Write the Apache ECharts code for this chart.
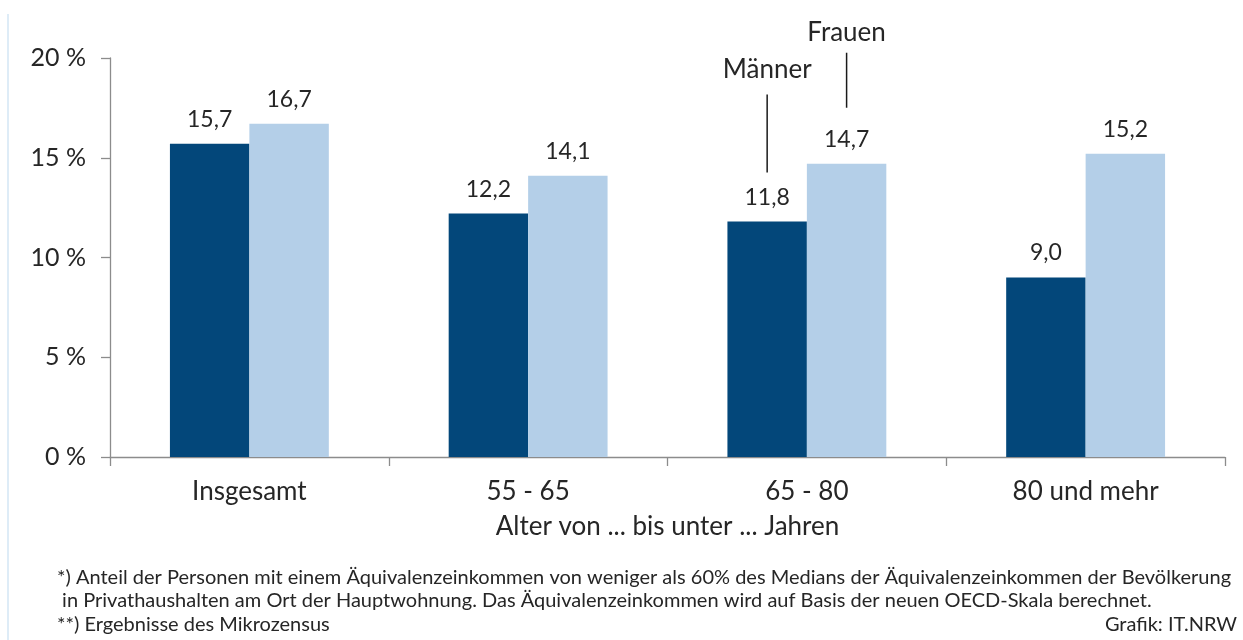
<!DOCTYPE html>
<html>
<head>
<meta charset="utf-8">
<script src="https://cdn.jsdelivr.net/npm/echarts@6/dist/echarts.min.js"></script>
<style>
html,body{margin:0;padding:0;background:#fff;}
#c{width:1243px;height:640px;}
</style>
</head>
<body>
<div id="c"></div>
<script>
const categories = ['Insgesamt', '55 - 65', '65 - 80', '80 und mehr'];
const maenner = [15.7, 12.2, 11.8, 9.0];
const frauen = [16.7, 14.1, 14.7, 15.2];
const yTicks = [0, 5, 10, 15, 20];
const seriesNames = ['Männer', 'Frauen'];
const axisTitle = 'Alter von ... bis unter ... Jahren';
const footnotes = [
  '*) Anteil der Personen mit einem Äquivalenzeinkommen von weniger als 60% des Medians der Äquivalenzeinkommen der Bevölkerung',
  ' in Privathaushalten am Ort der Hauptwohnung. Das Äquivalenzeinkommen wird auf Basis der neuen OECD-Skala berechnet.',
  '**) Ergebnisse des Mikrozensus'
];
const source = 'Grafik: IT.NRW';
const annotateIndex = 2;

const FONT = 'Lato, "Open Sans", sans-serif';
const TXT = '#262626';
const fmt = v => v.toFixed(1).replace('.', ',');

const chart = echarts.init(document.getElementById('c'), null, {renderer: 'canvas'});
const gap = 0.43;

const option = {
  backgroundColor: '#fff',
  animation: false,
  textStyle: {fontFamily: FONT, color: TXT},
  grid: {left: 110, right: 18, top: 58, bottom: 183, containLabel: false},
  xAxis: {
    type: 'category',
    data: categories,
    name: axisTitle,
    nameLocation: 'middle',
    nameGap: 57,
    nameTextStyle: {fontSize: 26, color: TXT, fontFamily: FONT},
    axisLine: {lineStyle: {color: '#8c8c8c', width: 1.3}},
    axisTick: {show: true, length: 9, lineStyle: {color: '#8c8c8c', width: 1.3}},
    axisLabel: {fontSize: 26, color: TXT, margin: 22, fontFamily: FONT}
  },
  yAxis: {
    type: 'value',
    min: yTicks[0],
    max: yTicks[yTicks.length - 1],
    interval: yTicks[1] - yTicks[0],
    axisLine: {show: true, lineStyle: {color: '#8c8c8c', width: 1.3}},
    axisTick: {show: true, length: 9, lineStyle: {color: '#8c8c8c', width: 1.3}},
    splitLine: {show: false},
    axisLabel: {fontSize: 25, color: TXT, margin: 24, fontFamily: FONT, formatter: v => v + ' %'}
  },
  series: [
    {
      name: seriesNames[0], type: 'bar', data: maenner,
      barGap: '0%', barCategoryGap: (gap * 100) + '%',
      itemStyle: {color: '#03477a'},
      label: {show: true, position: 'top', distance: 13, fontSize: 23, color: TXT, fontFamily: FONT, formatter: p => fmt(p.value)}
    },
    {
      name: seriesNames[1], type: 'bar', data: frauen,
      barGap: '0%', barCategoryGap: (gap * 100) + '%',
      itemStyle: {color: '#b4cfe8'},
      label: {show: true, position: 'top', distance: 13, fontSize: 23, color: TXT, fontFamily: FONT, formatter: p => fmt(p.value)}
    }
  ]
};
chart.setOption(option);

// annotations and footnotes
const x0 = chart.convertToPixel({xAxisIndex: 0}, 0);
const x1 = chart.convertToPixel({xAxisIndex: 0}, 1);
const band = x1 - x0;
const off = band * (1 - gap) / 4;
const cx = chart.convertToPixel({xAxisIndex: 0}, annotateIndex);
const mx = cx - off, fx = cx + off;
const yM = chart.convertToPixel({yAxisIndex: 0}, maenner[annotateIndex]);
const yF = chart.convertToPixel({yAxisIndex: 0}, frauen[annotateIndex]);

const fs = 20;
const g = [
  {type: 'line', shape: {x1: 8, y1: 14, x2: 8, y2: 640}, style: {stroke: '#d3e6f5', lineWidth: 1.5}},
  // Männer
  {type: 'line', shape: {x1: mx, y1: yM - 127, x2: mx, y2: yM - 49}, style: {stroke: '#1a1a1a', lineWidth: 1.5}},
  {type: 'text', x: mx, y: yM - 152, style: {text: seriesNames[0], fontSize: 26, fontFamily: FONT, fill: TXT, textAlign: 'center', textVerticalAlign: 'middle'}},
  // Frauen
  {type: 'line', shape: {x1: fx, y1: yF - 111, x2: fx, y2: yF - 56}, style: {stroke: '#1a1a1a', lineWidth: 1.5}},
  {type: 'text', x: fx, y: yF - 131, style: {text: seriesNames[1], fontSize: 26, fontFamily: FONT, fill: TXT, textAlign: 'center', textVerticalAlign: 'middle'}},
  // footnotes
  {type: 'text', x: 57, y: 578, style: {text: footnotes[0], fontSize: fs, fontFamily: FONT, fill: TXT, textVerticalAlign: 'middle'}},
  {type: 'text', x: 57, y: 601, style: {text: footnotes[1], fontSize: fs, fontFamily: FONT, fill: TXT, textVerticalAlign: 'middle'}},
  {type: 'text', x: 57, y: 625, style: {text: footnotes[2], fontSize: fs, fontFamily: FONT, fill: TXT, textVerticalAlign: 'middle'}},
  {type: 'text', x: 1237, y: 625, style: {text: source, fontSize: fs, fontFamily: FONT, fill: TXT, textAlign: 'right', textVerticalAlign: 'middle'}}
];
chart.setOption({graphic: g});
</script>
</body>
</html>
